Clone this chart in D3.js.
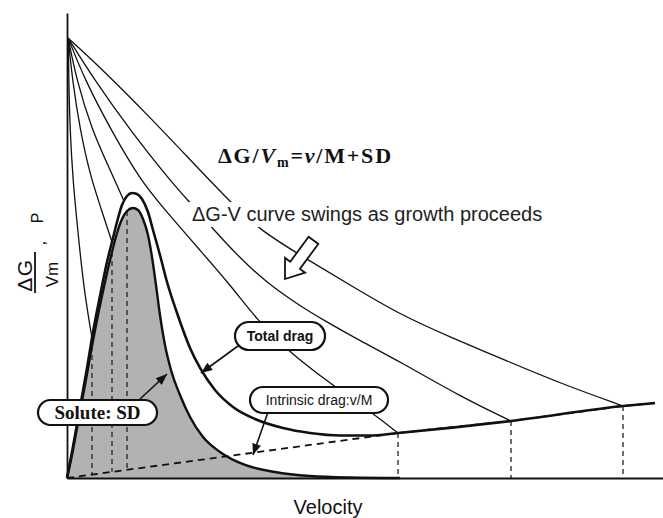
<!DOCTYPE html>
<html><head><meta charset="utf-8">
<script src="https://cdn.jsdelivr.net/npm/d3@7"></script>
<style>body{margin:0;background:#fff}svg{display:block}</style>
</head><body>
<svg id="c" width="663" height="518"></svg>
<script>
// ---- data (arbitrary units: velocity 0-100, driving force / drag 0-100) ----
const sdV = [0,0.84,1.68,2.52,3.36,4.19,5.03,5.87,6.71,7.55,8.39,9.23,10.07,11.07,11.91,12.75,13.59,14.26,14.93,15.6,16.44,17.45,18.96,20.64,22.82,25.67,29.87,34.9,40.77,47.48,55.87];
const sdP = [0,4.95,10.75,16.56,22.37,28.39,33.98,39.14,44.09,48.6,52.69,55.7,57.42,58.06,57.63,55.7,52.26,47.53,41.51,35.05,28.6,23.23,17.85,13.12,8.82,5.59,2.8,1.29,0.43,0.11,0];

const totalV = [0,0.84,1.68,2.52,3.36,4.19,5.03,5.87,6.71,7.55,8.39,9.23,10.07,10.91,11.74,12.58,13.59,14.43,15.6,16.78,18.46,20.64,22.32,24.83,27.85,31.54,36.24,40.77,45.81,50.84,55.54,74.5,93.29,98.66];
const totalP = [0,5.59,11.61,17.63,23.66,30.11,35.91,41.29,46.45,50.75,55.05,58.71,60.65,61.29,61.08,60.0,57.2,53.33,47.96,42.15,35.48,27.96,23.66,18.92,15.27,12.69,10.75,9.68,9.14,9.14,9.68,12.26,15.48,16.13];

const intrinsicV = [0,55.54,74.5,93.29,98.66];
const intrinsicP = [0,9.68,12.26,15.48,16.13];

const curveV = [
  [0.2,0.3,0.5,1.0,1.6,2.3,3.1,4.19],
  [0.2,0.9,2.2,3.9,5.8,7.55],
  [0.2,1.6,4.2,6.9,9.56],
  [0.2,3.0,7.4,12.3,16.0,22.3,27.4,31.9,36.9,44.5,51.2,55.54],
  [0.2,4.6,10.6,17.2,21.0,24.2,29.0,33.6,39.1,43.0,49.2,55.9,65.9,74.5],
  [0.2,6.4,13.9,21.5,27.9,32.4,39.9,47.5,55.9,64.3,73.8,82.7,93.29]
];
const curveP = [
  [94.6,85.6,74.8,64.1,56.0,47.0,38.5,30.11],
  [94.6,85.6,74.8,65.0,57.6,50.75],
  [94.6,85.6,74.8,67.2,59.57],
  [94.6,85.6,74.8,64.1,58.3,49.0,41.5,34.0,27.5,20.0,14.0,9.68],
  [94.6,85.6,74.8,64.1,58.7,54.0,47.3,41.9,37.0,34.0,29.5,25.0,17.6,12.26],
  [94.6,87.3,77.6,67.3,58.7,53.3,47.3,41.5,35.1,30.3,25.2,20.4,15.48]
];

const dropV = [4.19,7.55,10.07,55.54,74.5,93.29];
const dropTop = [28.4,48.6,57.4,9.68,12.26,15.48];
const dropBottom = [0.73,1.32,1.76,0,0,0];

const xTitle = "Velocity";
const chartTitle = "ΔG-V curve swings as growth proceeds";

// ---- drawing ----
const svg = d3.select('#c');
const x = d3.scaleLinear().domain([0,100]).range([67,663]);
const y = d3.scaleLinear().domain([0,100]).range([478,13]);
const zip = (a,b)=>a.map((v,i)=>[v,b[i]]);
const line = d3.line().x(d=>x(d[0])).y(d=>y(d[1])).curve(d3.curveMonotoneX);
const smooth = d3.line().x(d=>x(d[0])).y(d=>y(d[1])).curve(d3.curveBasis);
const area = d3.area().x(d=>x(d[0])).y0(y(0)).y1(d=>y(d[1])).curve(d3.curveMonotoneX);

svg.append('rect').attr('width',663).attr('height',518).attr('fill','#fff');

const defs = svg.append('defs');
defs.append('marker').attr('id','ah').attr('viewBox','0 0 10 8').attr('refX',10).attr('refY',4)
  .attr('markerWidth',12).attr('markerHeight',9).attr('markerUnits','userSpaceOnUse').attr('orient','auto')
  .append('path').attr('d','M0,0L10,4L0,8Z').attr('fill','#111');

// solute drag area
svg.append('path').attr('d', area(zip(sdV,sdP))).attr('fill','#b2b2b2');

// dashed drops
svg.selectAll('.drop').data(dropV).enter().append('line').attr('class','drop')
  .attr('x1',d=>x(d)).attr('x2',d=>x(d))
  .attr('y1',(d,i)=>y(dropTop[i])).attr('y2',(d,i)=>y(dropBottom[i]))
  .attr('stroke','#222').attr('stroke-width',1.3).attr('stroke-dasharray','5,4');

// intrinsic drag (dashed)
svg.append('path').attr('d', d3.line().x(d=>x(d[0])).y(d=>y(d[1]))(zip(intrinsicV,intrinsicP)))
  .attr('fill','none').attr('stroke','#111').attr('stroke-width',1.8).attr('stroke-dasharray','7,5');

// ΔG-V curves
curveV.forEach((cv,i)=>{
  svg.append('path').attr('d', smooth(zip(cv,curveP[i])))
    .attr('fill','none').attr('stroke','#111').attr('stroke-width',1.3);
});

// SD outline
svg.append('path').attr('d', line(zip(sdV,sdP))).attr('fill','none').attr('stroke','#111').attr('stroke-width',2.4);
// total drag
svg.append('path').attr('d', line(zip(totalV,totalP))).attr('fill','none').attr('stroke','#111').attr('stroke-width',2.6);

// axes
const ax = svg.append('g').attr('transform',`translate(0,${y(0)})`).call(d3.axisBottom(x).ticks(0).tickSizeOuter(0));
const ay = svg.append('g').attr('transform',`translate(${x(0)},0)`).call(d3.axisLeft(y).ticks(0).tickSizeOuter(0));
[ax,ay].forEach(g=>g.select('.domain').attr('stroke','#111').attr('stroke-width',1.8));

// text on the ΔG-V curves (white background)
const t1 = svg.append('text').attr('x',192).attr('y',221).attr('font-family','Liberation Sans, Arial, sans-serif')
  .attr('font-size',20).attr('fill','#222').text(chartTitle);
const bb = t1.node().getBBox();
svg.insert('rect','text').attr('x',bb.x-3).attr('y',bb.y-1).attr('width',bb.width+6).attr('height',bb.height+3).attr('fill','#fff');

// formula
const f = svg.append('text').attr('x',218).attr('y',163).attr('font-family','Liberation Serif, Times New Roman, serif')
  .attr('font-size',22).attr('font-weight','bold').attr('letter-spacing',1.8).attr('fill','#111');
f.append('tspan').text('ΔG/');
f.append('tspan').attr('font-style','italic').text('V');
f.append('tspan').attr('font-size',14).attr('dy',4).text('m');
f.append('tspan').attr('dy',-4).text('=');
f.append('tspan').attr('font-style','italic').text('v');
f.append('tspan').text('/M+SD');

// hollow arrow
(function(){
  const tip=[285,279], u=[0.593,-0.805], n=[0.805,0.593];
  const P=(a,b)=>[tip[0]+u[0]*a+n[0]*b, tip[1]+u[1]*a+n[1]*b];
  const pts=[P(0,0),P(17,12.5),P(17,6),P(48,6),P(48,-6),P(17,-6),P(17,-12.5)];
  svg.append('path').attr('d','M'+pts.map(p=>p.join(',')).join('L')+'Z')
    .attr('fill','#fff').attr('stroke','#111').attr('stroke-width',1.8).attr('stroke-linejoin','miter');
})();

// labels
function pill(x0,y0,x1,y1,txt,font,size,weight){
  const h=y1-y0;
  svg.append('rect').attr('x',x0).attr('y',y0).attr('width',x1-x0).attr('height',h).attr('rx',h/2).attr('ry',h/2)
    .attr('fill','#fff').attr('stroke','#111').attr('stroke-width',2.2);
  svg.append('text').attr('x',(x0+x1)/2).attr('y',(y0+y1)/2).attr('dy','0.35em').attr('text-anchor','middle')
    .attr('font-family',font).attr('font-size',size).attr('font-weight',weight).attr('fill','#111').text(txt);
}
function arrow(x1,y1,x2,y2){
  svg.append('line').attr('x1',x1).attr('y1',y1).attr('x2',x2).attr('y2',y2)
    .attr('stroke','#111').attr('stroke-width',1.6).attr('marker-end','url(#ah)');
}
arrow(238,346,201,373);
arrow(268,412,253,455);
arrow(140,399,167,374);
pill(235,322,325,350,'Total drag','Liberation Sans, Arial, sans-serif',14,'bold');
pill(250,387,388,413,'Intrinsic drag:v/M','Liberation Sans, Arial, sans-serif',14,'normal');
pill(38,400,157,425,'Solute: SD','Liberation Serif, Times New Roman, serif',19,'bold');

// axis titles
svg.append('text').attr('x',328).attr('y',514).attr('text-anchor','middle')
  .attr('font-family','Liberation Sans, Arial, sans-serif').attr('font-size',20).attr('fill','#111').text(xTitle);

const yl = svg.append('g').attr('transform','translate(35,273) rotate(-90)')
  .attr('font-family','Liberation Sans, Arial, sans-serif').attr('fill','#111');
yl.append('text').attr('x',-2).attr('y',-3).attr('text-anchor','middle').attr('font-size',21).attr('letter-spacing',1.5).text('ΔG');
yl.append('line').attr('x1',-20).attr('x2',21).attr('y1',0).attr('y2',0).attr('stroke','#111').attr('stroke-width',1.8);
yl.append('text').attr('x',-1.5).attr('y',23).attr('text-anchor','middle').attr('font-size',17).text('Vm');
yl.append('text').attr('x',30).attr('y',10).attr('text-anchor','middle').attr('font-size',17).text(',');
yl.append('text').attr('x',55).attr('y',8).attr('text-anchor','middle').attr('font-size',16).text('P');
</script>
</body></html>
